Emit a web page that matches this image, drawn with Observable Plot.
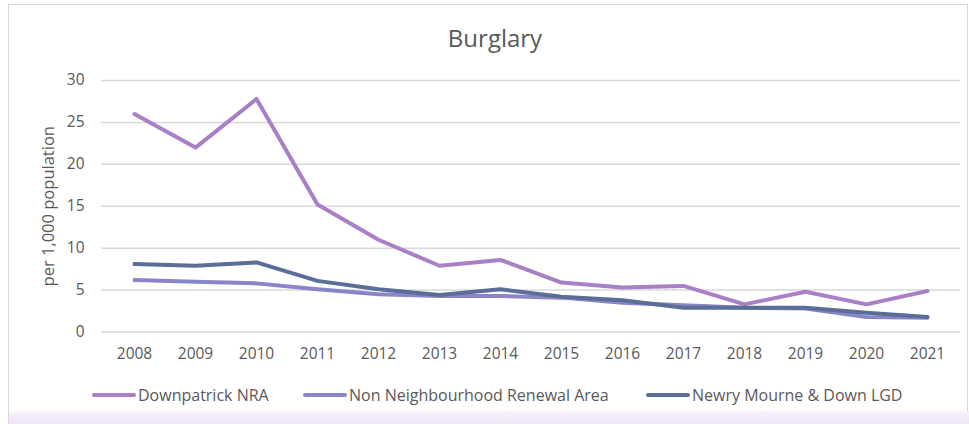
<!DOCTYPE html>
<html>
<head>
<meta charset="utf-8">
<script src="https://cdn.jsdelivr.net/npm/d3@7"></script>
<script src="https://cdn.jsdelivr.net/npm/@observablehq/plot@0.6"></script>
<style>
  html, body { margin: 0; padding: 0; background: #fff; }
  body { width: 969px; height: 424px; position: relative; overflow: hidden; font-family: "Open Sans", sans-serif; }
  #frame { position: absolute; left: 8px; top: 4px; width: 960px; height: 430px; border: 1.5px solid #d9d9d9; box-sizing: border-box; }
  #fade { position: absolute; left: 9px; top: 411px; width: 960px; height: 13px; background: linear-gradient(#f8f3fb, #efe4f6); }
  #title { position: absolute; left: 0; width: 990px; top: 21px; text-align: center; font-size: 24px; color: #595959; }
  #chart { position: absolute; left: 0; top: 0; }
  #legend { position: absolute; top: 384px; left: 0; width: 969px; height: 24px; }
  .item { position: absolute; top: 0; display: flex; align-items: center; font-size: 16px; color: #595959; white-space: nowrap; }
  .swatch { display: inline-block; width: 44px; height: 4px; border-radius: 2px; margin-right: 2px; }
</style>
</head>
<body>
<div id="frame"></div>
<div id="fade"></div>
<div id="title">Burglary</div>
<div id="chart"></div>
<div id="legend"></div>
<script>
const years = [2008, 2009, 2010, 2011, 2012, 2013, 2014, 2015, 2016, 2017, 2018, 2019, 2020, 2021];
const downpatrick = [26.0, 22.0, 27.8, 15.2, 11.0, 7.9, 8.6, 5.9, 5.3, 5.5, 3.3, 4.8, 3.3, 4.9];
const nonNRA = [6.2, 6.0, 5.8, 5.1, 4.5, 4.3, 4.3, 4.1, 3.5, 3.2, 2.9, 2.8, 1.8, 1.7];
const lgd = [8.1, 7.9, 8.3, 6.1, 5.1, 4.4, 5.1, 4.2, 3.8, 2.9, 2.9, 2.9, 2.3, 1.8];
const seriesNames = ["Downpatrick NRA", "Non Neighbourhood Renewal Area", "Newry Mourne & Down LGD"];
const seriesColors = ["#a97fc6", "#8a85c9", "#5a6e98"];
const yTicks = [0, 5, 10, 15, 20, 25, 30];

const seriesValues = [downpatrick, nonNRA, lgd];
const rows = [];
seriesNames.forEach((name, s) => {
  years.forEach((yr, i) => rows.push({series: name, year: String(yr), value: seriesValues[s][i]}));
});

const chart = Plot.plot({
  width: 969,
  height: 370,
  marginTop: 80,
  marginBottom: 38.5,
  marginLeft: 101,
  marginRight: 9,
  style: { fontFamily: "Open Sans, sans-serif", fontSize: "15.5px", color: "#595959", background: "transparent" },
  x: { type: "point", domain: years.map(String), padding: 0.5, label: null, tickSize: 0, tickPadding: 16 },
  y: { domain: [0, 30], ticks: yTicks, label: null, tickSize: 0, tickPadding: 17 },
  color: { domain: seriesNames, range: seriesColors },
  marks: [
    Plot.ruleY(yTicks, { stroke: "#d9d9d9", strokeWidth: 1.5 }),
    Plot.line(rows, { x: "year", y: "value", z: "series", stroke: "series", strokeWidth: 4, strokeLinejoin: "round", strokeLinecap: "round" }),
    Plot.text(["per 1,000 population"], { frameAnchor: "left", dx: -53, rotate: -90, textAnchor: "middle", fontSize: 16.5, fill: "#595959", y: 15 })
  ]
});
document.getElementById("chart").appendChild(chart);

const legendX = [92, 303, 646];
const legend = document.getElementById("legend");
seriesNames.forEach((name, i) => {
  const item = document.createElement("div");
  item.className = "item";
  item.style.left = legendX[i] + "px";
  const sw = document.createElement("span");
  sw.className = "swatch";
  sw.style.background = seriesColors[i];
  const tx = document.createElement("span");
  tx.textContent = name;
  item.appendChild(sw);
  item.appendChild(tx);
  legend.appendChild(item);
});
</script>
</body>
</html>
